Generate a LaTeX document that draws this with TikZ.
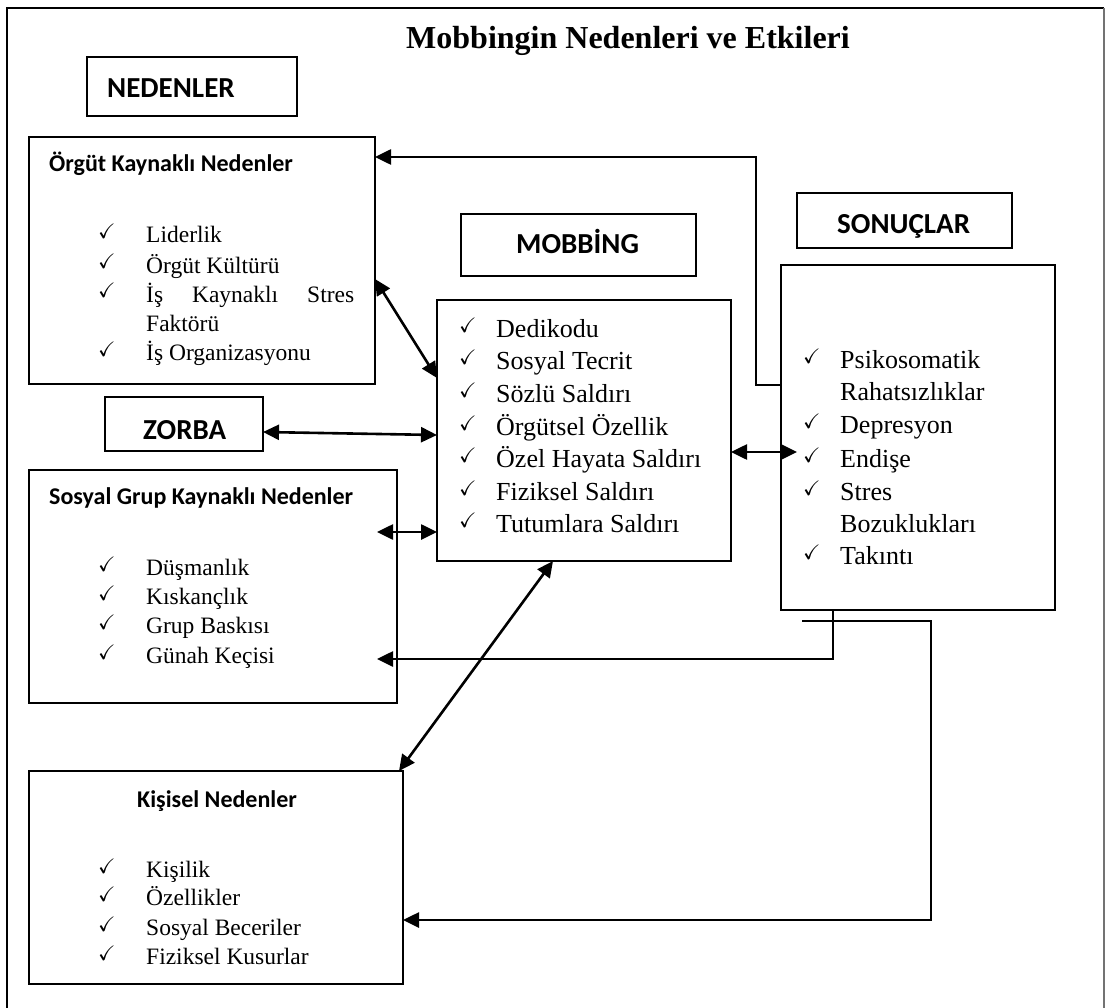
\documentclass[tikz,border=0pt]{standalone}
\usepackage{amssymb}
\usepackage{fontspec}
\setmainfont{Liberation Serif}
\newfontfamily\hd{Carlito}
\usetikzlibrary{arrows.meta,calc}
\tikzset{
  box/.style={draw, line width=2pt, inner sep=0pt, outer sep=0pt, anchor=north west},
  conn/.style={line width=2.6pt},
  lt/.style={anchor=base west, inner sep=0pt, font=\fontsize{23.5}{28}\selectfont},
  mt/.style={anchor=base west, inner sep=0pt, font=\fontsize{26}{30}\selectfont},
  ck/.style={anchor=base west, inner sep=0pt, font=\fontsize{21}{24}\selectfont},
  head/.style={anchor=base west, inner sep=0pt, font=\hd\bfseries\fontsize{29}{34}\selectfont},
  sub/.style={anchor=base west, inner sep=0pt, font=\hd\bfseries\fontsize{24}{28}\selectfont},
}
\begin{document}
\begin{tikzpicture}[x=1pt, y=-1pt, >={Triangle[length=16pt,width=15pt]}]
\useasboundingbox (0,0) rectangle (1105,1008);
% outer frame
\draw[line width=2.2pt] (7,1010) -- (7,8) -- (1104,8);
\draw[line width=1.6pt, black!55] (1104,8) -- (1104,1010);

% title
\node[anchor=base, inner sep=0pt, font=\bfseries\fontsize{32}{38}\selectfont] (title) at (628,49) {Mobbingin Nedenleri ve Etkileri};

% boxes
\node[box, minimum width=210pt, minimum height=59pt] (ned) at (87,57) {};
\node[box, minimum width=346pt, minimum height=247pt] (org) at (29,137) {};
\node[box, minimum width=158pt, minimum height=54pt] (zorba) at (105,397) {};
\node[box, minimum width=368pt, minimum height=233pt] (sosyal) at (29,470) {};
\node[box, minimum width=374pt, minimum height=213pt] (kisisel) at (29,771) {};
\node[box, minimum width=235pt, minimum height=62pt] (mob) at (461,214) {};
\node[box, minimum width=294pt, minimum height=261pt] (mlist) at (437,300) {};
\node[box, minimum width=215pt, minimum height=55pt] (son) at (797,193) {};
\node[box, line width=2.4pt, minimum width=274pt, minimum height=345pt] (slist) at (781,265) {};

% headings
\node[head] (tned) at (107,98) {NEDENLER};
\node[head] (tmob) at (516,254) {MOBBİNG};
\node[head] (tson) at (837,234) {SONUÇLAR};
\node[head] (tzor) at (143,439) {ZORBA};
\node[sub] (torg) at (49,172) {Örgüt Kaynaklı Nedenler};
\node[sub] (tsos) at (49,504) {Sosyal Grup Kaynaklı Nedenler};
\node[sub] (tkis) at (137,807) {Kişisel Nedenler};

% Örgüt list
\node[ck] (oc1) at (98,239) {\checkmark};
\node[lt] (o1) at (146,243) {Liderlik};
\node[ck] (oc2) at (98,269) {\checkmark};
\node[lt] (o2) at (146,273) {Örgüt Kültürü};
\node[ck] (oc3) at (98,298) {\checkmark};
\node[lt] (o3) at (146,302) {\makebox[208pt][l]{İş\hfill Kaynaklı\hfill Stres}};
\node[lt] (o4) at (146,331) {Faktörü};
\node[ck] (oc5) at (98,356) {\checkmark};
\node[lt] (o5) at (146,360) {İş Organizasyonu};

% Sosyal list
\node[ck] (sc1) at (98,571) {\checkmark};
\node[lt] (s1) at (146,575) {Düşmanlık};
\node[ck] (sc2) at (98,600) {\checkmark};
\node[lt] (s2) at (146,604) {Kıskançlık};
\node[ck] (sc3) at (98,629) {\checkmark};
\node[lt] (s3) at (146,633) {Grup Baskısı};
\node[ck] (sc4) at (98,659) {\checkmark};
\node[lt] (s4) at (146,663) {Günah Keçisi};

% Kişisel list
\node[ck] (kc1) at (98,873) {\checkmark};
\node[lt] (k1) at (146,877) {Kişilik};
\node[ck] (kc2) at (98,901) {\checkmark};
\node[lt] (k2) at (146,905) {Özellikler};
\node[ck] (kc3) at (98,931) {\checkmark};
\node[lt] (k3) at (146,935) {Sosyal Beceriler};
\node[ck] (kc4) at (98,960) {\checkmark};
\node[lt] (k4) at (146,964) {Fiziksel Kusurlar};

% Mobbing list
\node[ck] (mc1) at (459,332) {\checkmark};
\node[mt] (m1) at (496,337) {Dedikodu};
\node[ck] (mc2) at (459,364) {\checkmark};
\node[mt] (m2) at (496,369) {Sosyal Tecrit};
\node[ck] (mc3) at (459,397) {\checkmark};
\node[mt] (m3) at (496,402) {Sözlü Saldırı};
\node[ck] (mc4) at (459,430) {\checkmark};
\node[mt] (m4) at (496,435) {Örgütsel Özellik};
\node[ck] (mc5) at (459,462) {\checkmark};
\node[mt] (m5) at (496,467) {Özel Hayata Saldırı};
\node[ck] (mc6) at (459,495) {\checkmark};
\node[mt] (m6) at (496,500) {Fiziksel Saldırı};
\node[ck] (mc7) at (459,527) {\checkmark};
\node[mt] (m7) at (496,532) {Tutumlara Saldırı};

% Sonuçlar list
\node[ck] (rc1) at (803,363) {\checkmark};
\node[mt] (r1) at (840,368) {Psikosomatik};
\node[mt] (r2) at (840,400) {Rahatsızlıklar};
\node[ck] (rc3) at (803,428) {\checkmark};
\node[mt] (r3) at (840,433) {Depresyon};
\node[ck] (rc4) at (803,462) {\checkmark};
\node[mt] (r4) at (840,467) {Endişe};
\node[ck] (rc5) at (803,495) {\checkmark};
\node[mt] (r5) at (840,500) {Stres};
\node[mt] (r6) at (840,532) {Bozuklukları};
\node[ck] (rc7) at (803,559) {\checkmark};
\node[mt] (r7) at (840,564) {Takıntı};

% connectors
\coordinate (bendA) at (756,157);
\draw[conn,->] (slist.west |- 0,385) -| (bendA) -- (org.east |- bendA);
\draw[conn,<->] (org.east |- 0,279) -- (mlist.west |- 0,378);
\draw[conn,<->] (zorba.east |- 0,432) -- (mlist.west |- 0,435);
\draw[conn,<->] ($(sosyal.east |- 0,532)+(-20,0)$) -- (mlist.west |- 0,532);
\draw[conn,<->] (mlist.east |- 0,452) -- ($(slist.west |- 0,452)+(16,0)$);
\draw[conn,<->] (mlist.south -| 553,0) -- (kisisel.north -| 399,0);
\coordinate (bendB) at (833,659);
\draw[conn,->] ($(slist.south west)+(16,0)$) -| (bendB) -- ($(sosyal.east |- bendB)+(-20,0)$);
\coordinate (bendC) at (931,920);
\draw[conn,->] ($(slist.south west)+(21,11)$) -| (bendC) -- (kisisel.east |- bendC);
\end{tikzpicture}
\end{document}
